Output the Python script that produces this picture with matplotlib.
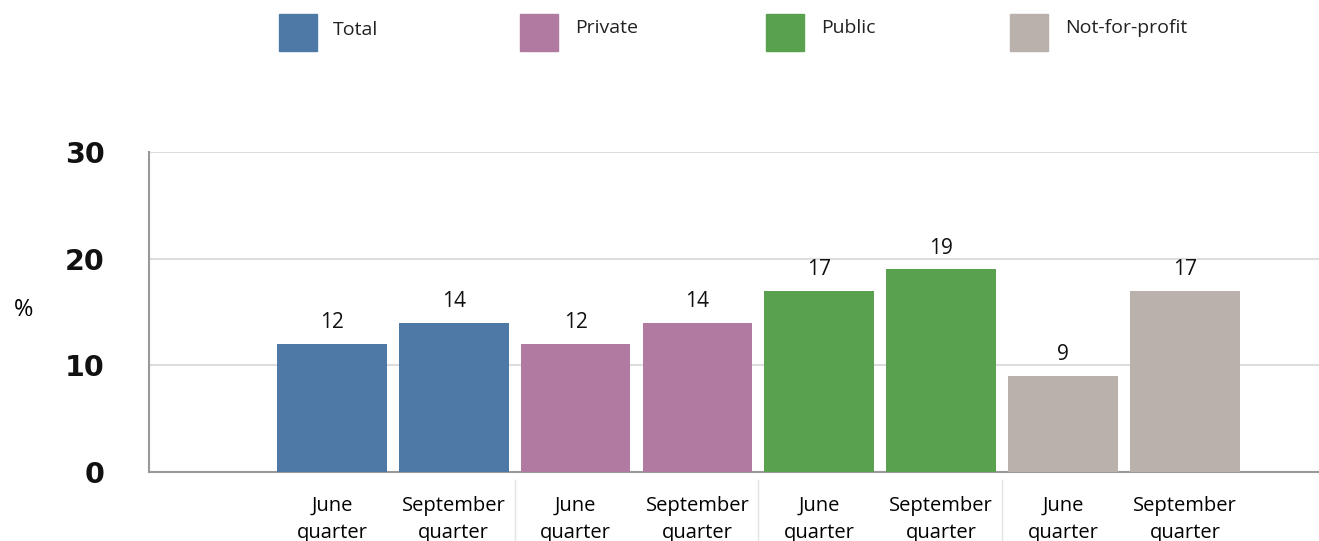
import matplotlib
matplotlib.use("Agg")
import matplotlib.pyplot as plt
from matplotlib.patches import Rectangle
from matplotlib.transforms import blended_transform_factory

# Data
series = ["Total", "Private", "Public", "Not-for-profit"]
colors = ["#4E79A7", "#B07AA1", "#59A14F", "#BAB0AC"]
quarters = ["June\nquarter", "September\nquarter"]
values = {
    "Total": [12, 14],
    "Private": [12, 14],
    "Public": [17, 19],
    "Not-for-profit": [9, 17],
}
y_ticks = [0, 10, 20, 30]

plt.rcParams["font.family"] = ["Open Sans", "DejaVu Sans"]

fig = plt.figure(figsize=(13.19, 5.41), dpi=100)
ax = fig.add_axes([149 / 1319, 69 / 541, 1 - 149 / 1319, 320 / 541])

positions = []
labels = []
pos = 1
for s, c in zip(series, colors):
    for q, v in zip(quarters, values[s]):
        ax.bar(pos, v, width=0.9, color=c, zorder=3)
        ax.text(pos, v + 1.0, f"{v}", ha="center", va="bottom",
                fontsize=15, color="#111111")
        positions.append(pos)
        labels.append(q)
        pos += 1

ax.set_xlim(-0.5, 9.10)
ax.set_ylim(0, 30)
ax.set_yticks(y_ticks)
ax.set_yticklabels([str(t) for t in y_ticks], fontsize=20.5, fontweight="bold",
                   family="DejaVu Sans", color="#111111")
ax.set_xticks(positions)
ax.set_xticklabels(labels, fontsize=14.5, linespacing=1.5)
ax.tick_params(axis="y", length=0, pad=32)
ax.tick_params(axis="x", length=0, pad=17)

ax.grid(axis="y", color="#DDDDDD", linewidth=1.5, zorder=0)
for side in ["top", "right"]:
    ax.spines[side].set_visible(False)
for side in ["left", "bottom"]:
    ax.spines[side].set_color("#999999")
    ax.spines[side].set_linewidth(1.5)

# Separators between the series groups, below the axis
trans = blended_transform_factory(ax.transData, ax.transAxes)
for xsep in [2.5, 4.5, 6.5]:
    ax.plot([xsep, xsep], [-0.025, -0.25], transform=trans, color="#E3E3E3",
            linewidth=1, clip_on=False)

fig.text(24 / 1319, 1 - 310 / 541, "%", fontsize=17, ha="center", va="center")

# Legend
leg_x = [279, 520, 766, 1010]
txt_x = [333, 575, 821, 1065]
txt_y = [30, 28, 28, 28]
for s, c, lx, tx, ty in zip(series, colors, leg_x, txt_x, txt_y):
    fig.patches.append(Rectangle((lx / 1319, 1 - 51 / 541), 38 / 1319, 37 / 541,
                                 transform=fig.transFigure, color=c))
    fig.text(tx / 1319, 1 - ty / 541, s, fontsize=14, ha="left", va="center",
             color="#222222")

fig.savefig("out.png", dpi=100)
